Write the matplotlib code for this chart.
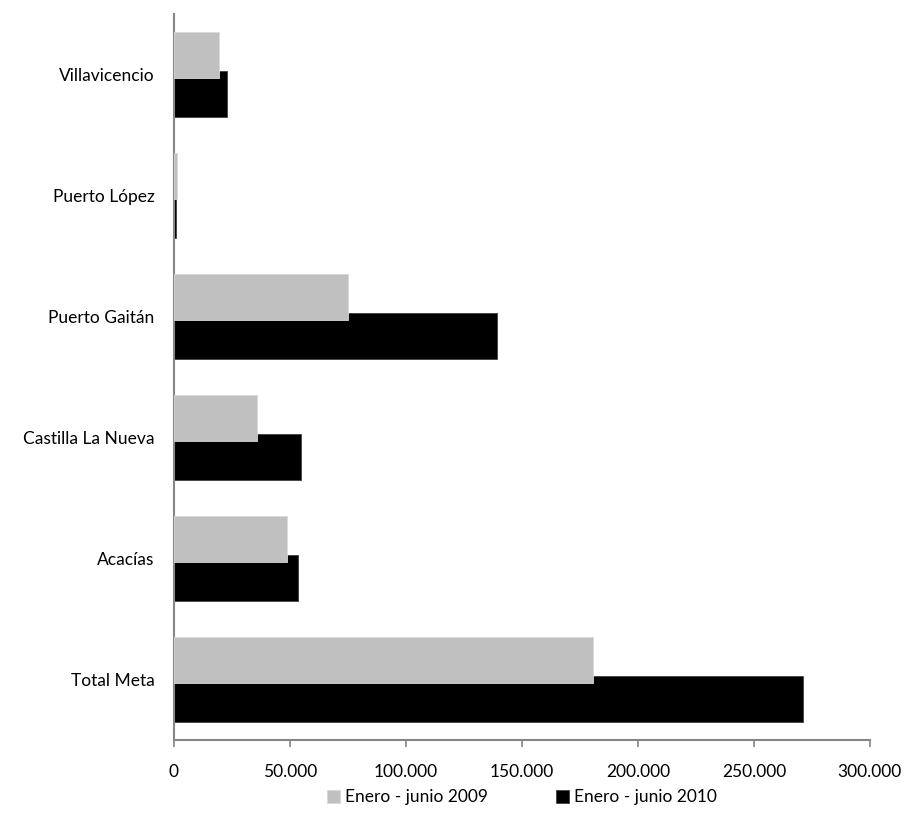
import matplotlib
matplotlib.use("Agg")
import matplotlib.pyplot as plt
import numpy as np
from matplotlib.ticker import FuncFormatter, MultipleLocator

# ==================== 数据 ====================
municipios = ["Total Meta", "Acacías", "Castilla La Nueva",
              "Puerto Gaitán", "Puerto López", "Villavicencio"]
ene_jun_2009 = [180600, 48800, 35600, 75100, 1100, 19500]
ene_jun_2010 = [271100, 53600, 54700, 139100, 900, 22700]

labels = ["Enero - junio 2009", "Enero - junio 2010"]

# ==================== 风格 ====================
plt.rcParams["font.family"] = ["Lato", "DejaVu Sans"]
AXIS_GRAY = "#868686"

fig = plt.figure(figsize=(9.08, 8.21), dpi=100)
ax = fig.add_axes([0.1916, 0.0987, 0.7664, 0.8843])

y = np.arange(len(municipios))
h = 0.38
off = 0.163

ax.barh(y - off, ene_jun_2010, height=h, color="black",
        edgecolor="#404040", linewidth=0.6, label=labels[1], zorder=2)
ax.barh(y + off, ene_jun_2009, height=h, color="#C0C0C0",
        edgecolor="#D8D8D8", linewidth=0.6, label=labels[0], zorder=3)

ax.set_ylim(-0.5, len(municipios) - 0.5)
ax.set_xlim(0, 300000)
ax.set_yticks(y)
ax.set_yticklabels(municipios)

ax.xaxis.set_major_locator(MultipleLocator(50000))
ax.xaxis.set_major_formatter(
    FuncFormatter(lambda v, p: f"{int(v):,}".replace(",", ".")))

for s in ["top", "right"]:
    ax.spines[s].set_visible(False)
for s in ["left", "bottom"]:
    ax.spines[s].set_color(AXIS_GRAY)
    ax.spines[s].set_linewidth(1.5)

ax.tick_params(axis="x", direction="out", length=5, width=1.2,
               color=AXIS_GRAY, pad=12, labelsize=12.5)
ax.tick_params(axis="y", length=0, pad=14, labelsize=12.5)

handles, lbls = ax.get_legend_handles_labels()
fig.legend(handles[::-1], lbls[::-1], loc="lower center", ncol=2,
           bbox_to_anchor=(0.575, 0.0), frameon=False, fontsize=12.5,
           handlelength=0.75, handleheight=0.75, handletextpad=0.3,
           columnspacing=3.9)

fig.savefig("out.png", dpi=100)
